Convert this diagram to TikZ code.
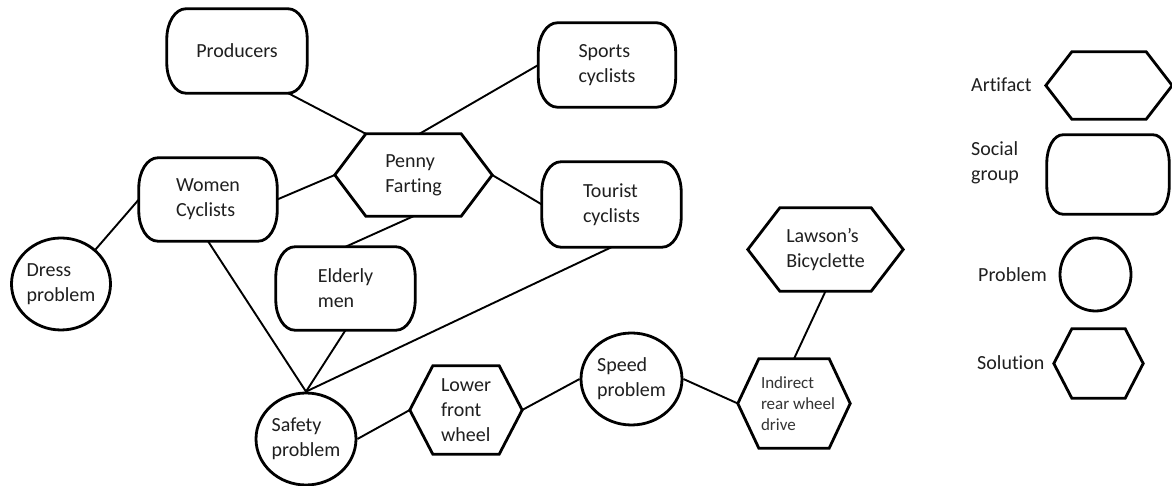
\documentclass[tikz,border=0pt]{standalone}
\usepackage{fontspec}
\setmainfont[Ligatures=NoCommon]{Carlito}
\usetikzlibrary{shapes.geometric,calc}
\tikzset{
  outline/.style={line width=2.8pt, line join=miter},
  conn/.style={line width=1.9pt},
  lbl/.style={font=\fontsize{20}{25}\selectfont, align=left, text=black!88, inner sep=0pt},
  smalllbl/.style={font=\fontsize{17}{21}\selectfont, align=left, text=black!80, inner sep=0pt},
  probnode/.style={lbl, ellipse, draw, line width=2.8pt, inner sep=0pt},
}
% #1 node name, #2 horizontal inset of the top/bottom edges
\newcommand\HexShape[2]{%
  \draw[outline] (#1.west) -- ([xshift=#2]#1.north west) -- ([xshift=-#2]#1.north east)
    -- (#1.east) -- ([xshift=-#2]#1.south east) -- ([xshift=#2]#1.south west) -- cycle;}
% rounded box with elliptic corners; #1 node name, #2 x radius, #3 y radius
\newcommand\GroupShape[3]{%
  \draw[outline] ([xshift=#2]#1.north west) -- ([xshift=-#2]#1.north east)
    arc[start angle=90, end angle=0, x radius=#2, y radius=#3]
    -- ([yshift=#3]#1.south east)
    arc[start angle=0, end angle=-90, x radius=#2, y radius=#3]
    -- ([xshift=#2]#1.south west)
    arc[start angle=270, end angle=180, x radius=#2, y radius=#3]
    -- ([yshift=-#3]#1.north west)
    arc[start angle=180, end angle=90, x radius=#2, y radius=#3] -- cycle;}
\begin{document}
\begin{tikzpicture}[x=1pt,y=1pt]
\useasboundingbox (0,0) rectangle (1172,486);
\fill[white] (0,0) rectangle (1172,486);

% social groups
\node[lbl, minimum width=140pt, minimum height=84pt] (producers) at (237,435) {Producers};
\node[lbl, minimum width=137pt, minimum height=84pt] (sports) at (607,421) {Sports\\cyclists};
\node[lbl, minimum width=138pt, minimum height=83pt] (women) at (208,286.5) {Women\\Cyclists};
\node[lbl, minimum width=139pt, minimum height=85pt] (tourist) at (611.5,281.5) {Tourist\\cyclists};
\node[lbl, minimum width=139pt, minimum height=83pt] (elderly) at (345.5,197.5) {Elderly\\men};

% artifacts / solutions
\node[lbl, minimum width=157pt, minimum height=82pt] (penny) at (413.5,311) {Penny\\Farting};
\node[lbl, minimum width=112pt, minimum height=88pt] (lower) at (466,76) {Lower\\front\\wheel};
\node[smalllbl, minimum width=112pt, minimum height=89pt] (indirect) at (794,82.5) {\hspace*{8pt}Indirect\\\hspace*{8pt}rear wheel\\\hspace*{8pt}drive};
\node[lbl, minimum width=155pt, minimum height=83pt] (lawson) at (825.5,236.5) {Lawson’s\\Bicyclette};

% problems
\node[probnode, minimum width=99pt, minimum height=92pt] (dress) at (61,202) {Dress\\problem};
\node[probnode, minimum width=100pt, minimum height=92pt] (safety) at (306,47) {Safety\\problem};
\node[probnode, minimum width=101pt, minimum height=92pt] (speed) at (631.5,107) {Speed\\problem};

% connectors
\draw[conn] ([xshift=-19pt]producers.south east) -- ([xshift=31pt]penny.north west);
\draw[conn] (sports.west) -- ([xshift=6pt]penny.north);
\draw[conn] (women.east) -- (penny.west);
\draw[conn] (penny.east) -- (tourist.west);
\draw[conn] (penny.south) -- (elderly.north);
\draw[conn] (women.west) -- (dress.45);
\draw[conn] (women.south) -- (safety.north);
\draw[conn] (elderly.south) -- (safety.north);
\draw[conn] (tourist.south) -- (safety.north);
\draw[conn] (safety.east) -- (lower.west);
\draw[conn] (lower.east) -- (speed.west);
\draw[conn] (speed.east) -- (indirect.west);
\draw[conn] (indirect.north) -- (lawson.south);

% outlines
\GroupShape{producers}{19pt}{30pt}
\GroupShape{sports}{19pt}{30pt}
\GroupShape{women}{19pt}{30pt}
\GroupShape{tourist}{19pt}{30pt}
\GroupShape{elderly}{19pt}{30pt}
\HexShape{penny}{31pt}
\HexShape{lower}{23pt}
\HexShape{indirect}{21pt}
\HexShape{lawson}{32pt}

% legend
\node[lbl, anchor=west] (lblart) at (971,401) {Artifact};
\node[lbl, minimum width=126pt, minimum height=67pt] (legart) at (1109,400.5) {};
\HexShape{legart}{26pt}
\node[lbl, anchor=west] (lblsoc) at (971,323) {Social\\group};
\node[lbl, minimum width=122pt, minimum height=79pt] (legsoc) at (1108,311.5) {};
\GroupShape{legsoc}{16pt}{28pt}
\node[lbl, anchor=west] (lblprob) at (978,211) {Problem};
\node[probnode, minimum width=71pt, minimum height=73pt] (legprob) at (1095.5,211.5) {};
\node[lbl, anchor=west] (lblsol) at (977,123) {Solution};
\node[lbl, minimum width=89pt, minimum height=69pt] (legsol) at (1098.5,122.5) {};
\HexShape{legsol}{18pt}
\end{tikzpicture}
\end{document}
